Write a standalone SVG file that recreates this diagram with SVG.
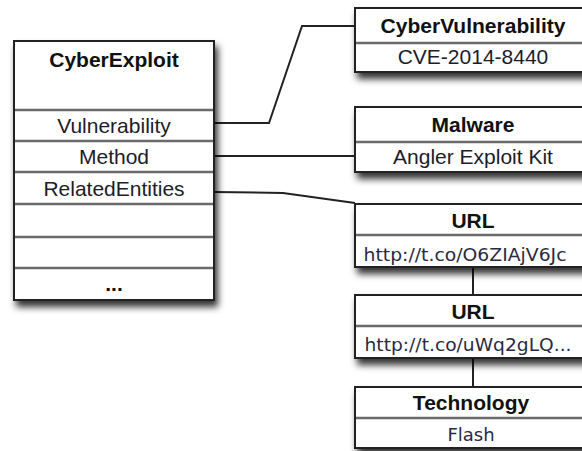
<svg xmlns="http://www.w3.org/2000/svg" width="582" height="451" viewBox="0 0 582 451">
  <defs>
    <filter id="shadow" x="-10%" y="-10%" width="130%" height="140%">
      <feDropShadow dx="3" dy="6" stdDeviation="3.5" flood-color="#000" flood-opacity="0.8"/>
    </filter>
  </defs>
  <style>
    .box { fill: #fff; stroke: #222; stroke-width: 2; }
    .div { stroke: #6a6a6a; stroke-width: 2.5; fill: none; }
    .wire { stroke: #222; stroke-width: 2; fill: none; }
    text { font-family: "Liberation Sans", Arial, sans-serif; font-size: 21px; fill: #1c1c2a; text-anchor: middle; }
    .title { font-weight: bold; fill: #111; }
    .mono { font-family: "DejaVu Sans", Verdana, sans-serif; font-size: 18px; fill: #2a2a40; }
  </style>
  <rect width="582" height="451" fill="#fff"/>

  <!-- connectors -->
  <g id="connectors">
    <polyline class="wire" points="214,123 269,123 302,26 355,26"/>
    <line class="wire" x1="214" y1="156" x2="355" y2="156"/>
    <polyline class="wire" points="214,192 283,193 355,203"/>
    <line class="wire" x1="473" y1="267" x2="473" y2="295"/>
    <line class="wire" x1="473" y1="358" x2="473" y2="387"/>
  </g>

  <!-- CyberExploit entity with attribute slots -->
  <g id="cyberexploit">
    <rect class="box" x="14" y="41" width="200" height="259" filter="url(#shadow)"/>
    <line class="div" x1="15" y1="110" x2="213" y2="110"/>
    <line class="div" x1="15" y1="141" x2="213" y2="141"/>
    <line class="div" x1="15" y1="172" x2="213" y2="172"/>
    <line class="div" x1="15" y1="204" x2="213" y2="204"/>
    <line class="div" x1="15" y1="237" x2="213" y2="237"/>
    <line class="div" x1="15" y1="268" x2="213" y2="268"/>
    <text class="title" x="114" y="67">CyberExploit</text>
    <text x="114" y="133">Vulnerability</text>
    <text x="114" y="164">Method</text>
    <text x="114" y="196">RelatedEntities</text>
    <text class="title" x="114" y="291" font-size="15">...</text>
  </g>

  <g id="cybervulnerability">
    <rect class="box" x="355" y="8" width="240" height="64" filter="url(#shadow)"/>
    <line class="div" x1="356" y1="43" x2="594" y2="43"/>
    <text class="title" x="473" y="33">CyberVulnerability</text>
    <text x="473" y="64">CVE-2014-8440</text>
  </g>

  <g id="malware">
    <rect class="box" x="355" y="107" width="240" height="65" filter="url(#shadow)"/>
    <line class="div" x1="356" y1="142" x2="594" y2="142"/>
    <text class="title" x="473" y="132">Malware</text>
    <text x="473" y="164">Angler Exploit Kit</text>
  </g>

  <g id="url1">
    <rect class="box" x="355" y="204" width="240" height="63" filter="url(#shadow)"/>
    <line class="div" x1="356" y1="235" x2="594" y2="235"/>
    <text class="title" x="473" y="228">URL</text>
    <text class="mono" x="465" y="261" textLength="203" lengthAdjust="spacingAndGlyphs">http://t.co/O6ZIAjV6Jc</text>
  </g>

  <g id="url2">
    <rect class="box" x="355" y="295" width="240" height="63" filter="url(#shadow)"/>
    <line class="div" x1="356" y1="326" x2="594" y2="326"/>
    <text class="title" x="473" y="319">URL</text>
    <text class="mono" x="468" y="351" textLength="207" lengthAdjust="spacingAndGlyphs">http://t.co/uWq2gLQ...</text>
  </g>

  <g id="technology">
    <rect class="box" x="355" y="387" width="240" height="61" filter="url(#shadow)"/>
    <line class="div" x1="356" y1="418" x2="594" y2="418"/>
    <text class="title" x="471" y="410" font-size="20">Technology</text>
    <text class="mono" x="471" y="441" font-size="17">Flash</text>
  </g>
</svg>
